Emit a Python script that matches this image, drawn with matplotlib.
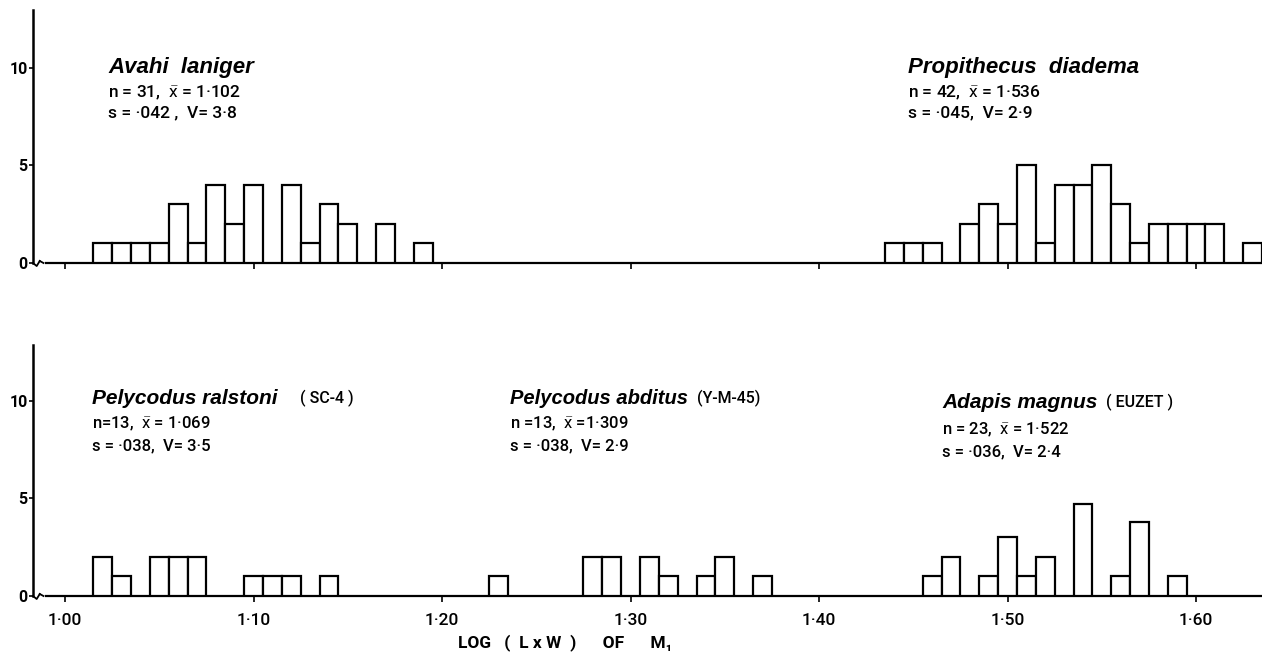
import matplotlib
matplotlib.use("Agg")
import matplotlib.pyplot as plt

# ---- data (bin centres of log(LxW) of M1, counts) ----
avahi_x = [1.02, 1.03, 1.04, 1.05, 1.06, 1.07, 1.08, 1.09, 1.10, 1.12, 1.13, 1.14, 1.15, 1.17, 1.19]
avahi_n = [1, 1, 1, 1, 3, 1, 4, 2, 4, 4, 1, 3, 2, 2, 1]

propith_x = [1.44, 1.45, 1.46, 1.48, 1.49, 1.50, 1.51, 1.52, 1.53, 1.54, 1.55, 1.56, 1.57,
             1.58, 1.59, 1.60, 1.61, 1.63]
propith_n = [1, 1, 1, 2, 3, 2, 5, 1, 4, 4, 5, 3, 1, 2, 2, 2, 2, 1]

ralstoni_x = [1.02, 1.03, 1.05, 1.06, 1.07, 1.10, 1.11, 1.12, 1.14]
ralstoni_n = [2, 1, 2, 2, 2, 1, 1, 1, 1]

abditus_x = [1.23, 1.28, 1.29, 1.31, 1.32, 1.34, 1.35, 1.37]
abditus_n = [1, 2, 2, 2, 1, 1, 2, 1]

adapis_x = [1.46, 1.47, 1.49, 1.50, 1.51, 1.52, 1.54, 1.56, 1.57, 1.59]
adapis_n = [1, 2, 1, 3, 1, 2, 4.7, 1, 3.8, 1]

x_ticks = [1.00, 1.10, 1.20, 1.30, 1.40, 1.50, 1.60]
x_tick_labels = ["1·00", "1·10", "1·20", "1·30", "1·40", "1·50", "1·60"]
y_ticks = [0, 5, 10]
y_tick_labels = ["0", "5", "10"]

XBAR = r"$\bar{\mathrm{x}}$"
top_labels = [
    ("Avahi  laniger", "", "n = 31,  " + XBAR + " = 1·102", "s = ·042 ,  V= 3·8"),
    ("Propithecus  diadema", "", "n = 42,  " + XBAR + " = 1·536", "s = ·045,  V= 2·9"),
]
bottom_labels = [
    ("Pelycodus ralstoni", "( SC-4 )", "n=13,  " + XBAR + " = 1·069", "s = ·038,  V= 3·5"),
    ("Pelycodus abditus", "(Y-M-45)", "n =13,  " + XBAR + " =1·309", "s = ·038,  V= 2·9"),
    ("Adapis magnus", "( EUZET )", "n = 23,  " + XBAR + " = 1·522", "s = ·036,  V= 2·4"),
]
x_label = "LOG   (  L x W  )      OF      M\u2081"

# ---- style ----
plt.rcParams["mathtext.fontset"] = "custom"
plt.rcParams["mathtext.rm"] = "Roboto"
plt.rcParams["mathtext.it"] = "Roboto:italic"

W, H = 1262, 652
fig = plt.figure(figsize=(W / 100, H / 100), dpi=100)
FONT = ["Liberation Sans", "DejaVu Sans"]
SFONT = ["Roboto", "DejaVu Sans"]

XMIN, XMAX = 0.983, 1.635
BW = 0.01
LW = 1.6


def make_axes(top_px, bottom_px, ymax):
    ax = fig.add_axes([33 / W, 1 - bottom_px / H, 1 - 33 / W, (bottom_px - top_px) / H])
    ax.set_xlim(XMIN, XMAX)
    ax.set_ylim(0, ymax)
    for s in ("top", "right"):
        ax.spines[s].set_visible(False)
    ax.spines["left"].set_linewidth(1.8)
    ax.spines["bottom"].set_linewidth(1.6)
    ax.spines["bottom"].set_bounds(0.990, XMAX)
    ax.set_yticks(y_ticks)
    ax.set_yticklabels(y_tick_labels, fontsize=11.5, fontweight="bold", family=SFONT)
    ax.tick_params(axis="y", direction="out", length=3, width=1.2, pad=1)
    ax.set_xticks(x_ticks)
    ax.tick_params(axis="x", direction="out", length=4, width=1.2)
    ax.patch.set_alpha(0)
    # small break mark at the origin
    ax.plot([0.0, 0.003, 0.0055], [0.0, -0.012, 0.008], transform=ax.transAxes,
            color="black", lw=1.3, clip_on=False)
    ax.plot([0.0055, 0.0085], [0.008, 0.0], transform=ax.transAxes,
            color="black", lw=1.3, clip_on=False)
    return ax


def draw_hist(ax, xs, ns):
    ax.bar(xs, ns, width=BW, facecolor="white", edgecolor="black", linewidth=LW,
           align="center", zorder=3)


ax1 = make_axes(10, 263, 12.97)
ax1.set_xticklabels([])
draw_hist(ax1, avahi_x, avahi_n)
draw_hist(ax1, propith_x, propith_n)

ax2 = make_axes(345, 596, 12.87)
ax2.set_xticklabels(x_tick_labels, fontsize=12.5, family=SFONT, fontweight="medium")
ax2.tick_params(axis="x", pad=8)
draw_hist(ax2, ralstoni_x, ralstoni_n)
draw_hist(ax2, abditus_x, abditus_n)
draw_hist(ax2, adapis_x, adapis_n)
ax2.set_xlabel(x_label, fontsize=12.5, fontweight="bold", family=SFONT)
ax2.xaxis.set_label_coords((565 - 33) / (W - 33), -0.15)


def fig_text(xp, yp, s, family=FONT, **kw):
    fig.text(xp / W, 1 - yp / H, s, va="center", ha="left", family=family, **kw)


# top panel labels (pixel anchors)
top_pos = [(108, 67, 93, 113), (908, 67, 93, 113)]
for (title, tag, l1, l2), (xp, yt, y1, y2) in zip(top_labels, top_pos):
    fig_text(xp, yt, title, fontsize=16, fontweight="bold", style="italic")
    fig_text(xp, y1, l1, family=SFONT, fontsize=12.5, fontweight="medium")
    fig_text(xp, y2, l2, family=SFONT, fontsize=12.5, fontweight="medium")

bot_pos = [(92, 398, 424, 446, 300, 15), (510, 398, 424, 446, 697, 14.5),
           (942, 402, 430, 452, 1106, 15)]
for (title, tag, l1, l2), (xp, yt, y1, y2, xtag, fs) in zip(bottom_labels, bot_pos):
    fig_text(xp, yt, title, fontsize=fs, style="italic", fontweight="bold")
    fig_text(xtag, yt, tag, family=SFONT, fontsize=11.5, fontweight="medium")
    fig_text(xp, y1, l1, family=SFONT, fontsize=12, fontweight="medium")
    fig_text(xp, y2, l2, family=SFONT, fontsize=12, fontweight="medium")

fig.savefig("out.png", dpi=100)
